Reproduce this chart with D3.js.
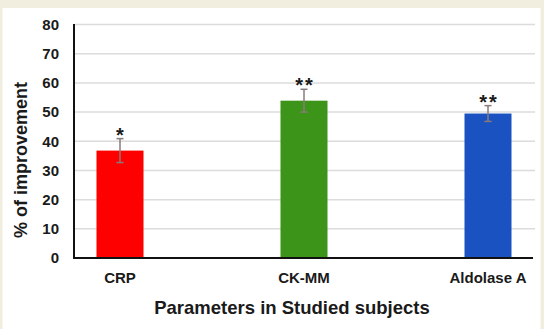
<!DOCTYPE html>
<html>
<head>
<meta charset="utf-8">
<script src="https://cdn.jsdelivr.net/npm/d3@7"></script>
<style>
  html, body { margin: 0; padding: 0; background: #f1eedf; }
  svg { display: block; }
  text { font-family: "Liberation Sans", Arial, sans-serif; font-weight: bold; fill: #1a1a1a; }
</style>
</head>
<body>
<svg id="chart" width="544" height="329"></svg>
<script>
// Percentage improvement per biochemical parameter
const categories = ["CRP", "CK-MM", "Aldolase A"];
const improvement = [36.8, 53.9, 49.5];
const errors = [4.1, 3.9, 2.7];
const significance = ["*", "**", "**"];
const barColors = ["#ff0000", "#3c9419", "#1a52c2"];
const yTicks = [0, 10, 20, 30, 40, 50, 60, 70, 80];

const svg = d3.select("#chart");

// page background and white panel
svg.append("rect").attr("width", 544).attr("height", 329).attr("fill", "#f1eedf");
svg.append("rect").attr("x", 2.5).attr("y", 8).attr("width", 538).attr("height", 321).attr("fill", "#ffffff");

const plot = { left: 74, right: 535, top: 24.5, bottom: 258 };

const y = d3.scaleLinear().domain([0, 80]).range([plot.bottom, plot.top]);
const x = d3.scalePoint().domain(categories).range([120, 488]);
const barWidth = 47;

// horizontal gridlines
svg.append("g")
  .selectAll("line")
  .data(yTicks.filter(t => t > 0))
  .join("line")
  .attr("x1", plot.left + 1).attr("x2", plot.right)
  .attr("y1", d => y(d)).attr("y2", d => y(d))
  .attr("stroke", "#dcdcdc").attr("stroke-width", 1.5);

// y axis tick labels
const yAxis = d3.axisLeft(y).tickValues(yTicks).tickSize(0).tickPadding(15);
const gy = svg.append("g").attr("transform", `translate(${plot.left},0)`).call(yAxis);
gy.select(".domain").remove();
gy.selectAll("text")
  .attr("font-size", 15)
  .attr("font-family", "'Liberation Sans', Arial, sans-serif")
  .attr("font-weight", "bold")
  .attr("fill", "#1a1a1a");

// bars
svg.append("g")
  .selectAll("rect")
  .data(categories)
  .join("rect")
  .attr("x", d => x(d) - barWidth / 2)
  .attr("width", barWidth)
  .attr("y", (d, i) => y(improvement[i]))
  .attr("height", (d, i) => y(0) - y(improvement[i]))
  .attr("fill", (d, i) => barColors[i]);

// error bars
const eb = svg.append("g").attr("stroke", "#8a7b7b").attr("stroke-width", 1.5);
categories.forEach((c, i) => {
  const cx = x(c);
  const hi = y(improvement[i] + errors[i]);
  const lo = y(improvement[i] - errors[i]);
  eb.append("line").attr("x1", cx).attr("x2", cx).attr("y1", hi).attr("y2", lo);
  eb.append("line").attr("x1", cx - 3.5).attr("x2", cx + 3.5).attr("y1", hi).attr("y2", hi);
  eb.append("line").attr("x1", cx - 3.5).attr("x2", cx + 3.5).attr("y1", lo).attr("y2", lo);
});

// significance markers
svg.append("g")
  .selectAll("text")
  .data(categories)
  .join("text")
  .attr("x", d => x(d) + 1)
  .attr("y", (d, i) => y(improvement[i] + errors[i]) + 3)
  .attr("text-anchor", "middle")
  .attr("font-size", 20)
  .attr("letter-spacing", 2)
  .text((d, i) => significance[i]);

// axis lines
svg.append("line")
  .attr("x1", plot.left).attr("x2", plot.left)
  .attr("y1", plot.top - 0.5).attr("y2", plot.bottom + 1)
  .attr("stroke", "#111").attr("stroke-width", 2);
svg.append("line")
  .attr("x1", plot.left - 1).attr("x2", 533)
  .attr("y1", plot.bottom).attr("y2", plot.bottom)
  .attr("stroke", "#111").attr("stroke-width", 2);

// category labels
svg.append("g")
  .selectAll("text")
  .data(categories)
  .join("text")
  .attr("x", d => x(d))
  .attr("y", 283)
  .attr("text-anchor", "middle")
  .attr("font-size", 15)
  .text(d => d);

// axis titles
svg.append("text")
  .attr("x", 292)
  .attr("y", 313.5)
  .attr("text-anchor", "middle")
  .attr("font-size", 18.5)
  .text("Parameters in Studied subjects");

svg.append("text")
  .attr("transform", "translate(27,160) rotate(-90)")
  .attr("text-anchor", "middle")
  .attr("font-size", 18)
  .text("% of improvement");
</script>
</body>
</html>
